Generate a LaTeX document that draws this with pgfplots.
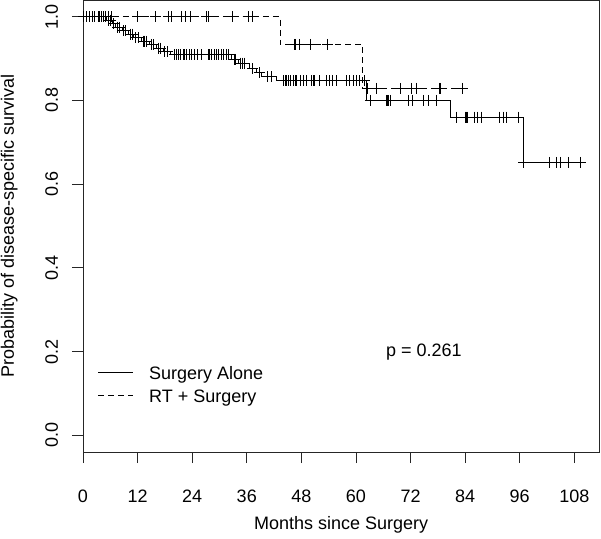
\documentclass[border=0pt]{standalone}
\usepackage{fontspec}
\setmainfont{Liberation Sans}
\usepackage{pgfplots}
\pgfplotsset{compat=1.18}
\begin{document}
\begin{tikzpicture}[font=\fontsize{18pt}{21pt}\selectfont]
\begin{axis}[
  scale only axis,
  width=516.3pt, height=452pt,
  xmin=0, xmax=113.5, ymin=-0.04, ymax=1.04,
  axis line style={line width=0.8pt, black!85},
  xtick={0,12,...,108}, xticklabels={0,12,24,36,48,60,72,84,96,108},
  ytick={0,0.2,0.4,0.6,0.8,1.0}, yticklabels={0.0,0.2,0.4,0.6,0.8,1.0},
  tick align=outside, xtick pos=bottom, ytick pos=left,
  major tick length=11pt,
  tick style={line width=0.8pt, black!85},
  xticklabel style={anchor=base, inner sep=0pt},
  yticklabel style={rotate=90, anchor=base, inner sep=0pt},
  xticklabel shift=39pt, yticklabel shift=14pt,
  xlabel={Months since Surgery},
  ylabel={Probability of disease-specific survival},
  xlabel style={at={([yshift=-77pt]axis description cs:0.5,0)}, anchor=base, inner sep=0pt},
  ylabel style={at={([xshift=-69pt]axis description cs:0,0.5)}, anchor=base, inner sep=0pt},
  clip=false,
]
% Surgery Alone (solid)
\addplot[black, line width=0.9pt, const plot] coordinates {
 (0,1) (5.2,0.9917) (6.4,0.9834) (7.2,0.9751) (8.6,0.9668) (10,0.9585)
 (11.2,0.9502) (12.8,0.9419) (14.6,0.9336) (16.2,0.9253) (17.6,0.917)
 (19.2,0.9095) (32.7,0.898) (34.2,0.889) (36.7,0.876) (38.2,0.866)
 (39.3,0.857) (42.6,0.847) (62.3,0.80) (80.7,0.760) (96.9,0.652) (109.3,0.652)};
\addplot[black, only marks, mark=+, mark size=5.5pt, mark options={line width=0.9pt}] coordinates {
 (5.6,0.9917) (6.0,0.9917) (6.8,0.9834) (7.6,0.9751) (8.0,0.9751) (9.0,0.9668) (9.4,0.9668)
 (10.4,0.9585) (10.8,0.9585) (11.6,0.9502) (12.2,0.9502) (13.2,0.9419) (13.6,0.9419) (14.0,0.9419)
 (15.0,0.9336) (15.5,0.9336) (16.6,0.9253) (17.0,0.9253) (18.0,0.917) (18.5,0.917)
 (20.2,0.9095) (20.6,0.9095) (21.0,0.9095) (21.5,0.9095) (22.0,0.9095) (22.4,0.9095) (22.8,0.9095)
 (23.3,0.9095) (23.8,0.9095) (24.6,0.9095) (25.2,0.9095) (26.1,0.9095) (27.5,0.9095) (27.9,0.9095)
 (28.3,0.9095) (29.0,0.9095) (29.4,0.9095) (29.8,0.9095) (30.5,0.9095) (30.9,0.9095) (31.6,0.9095) (31.9,0.9095)
 (33.2,0.898) (33.6,0.898) (34.6,0.889) (35.0,0.889) (35.5,0.889) (37.3,0.876) (38.7,0.866)
 (40.6,0.857) (41.4,0.857)
 (44.0,0.847) (44.4,0.847) (44.7,0.847) (45.1,0.847) (45.5,0.847) (46.2,0.847) (46.6,0.847) (46.9,0.847)
 (47.7,0.847) (48.4,0.847) (49.1,0.847) (50.2,0.847) (50.6,0.847) (50.9,0.847) (52.0,0.847) (53.5,0.847)
 (54.2,0.847) (54.9,0.847) (55.7,0.847) (57.9,0.847) (58.6,0.847) (59.4,0.847) (60.1,0.847) (60.8,0.847) (61.8,0.847)
 (63.2,0.80) (66.6,0.80) (66.9,0.80) (67.2,0.80) (67.5,0.80) (71.5,0.80) (72.4,0.80) (74.8,0.80) (76.0,0.80) (77.6,0.80)
 (82.0,0.760) (84.0,0.760) (84.2,0.760) (84.6,0.760) (86.0,0.760) (86.8,0.760) (87.6,0.760) (91.5,0.760)
 (92.4,0.760) (93.0,0.760) (95.7,0.760)
 (96.9,0.652) (102.5,0.652) (104.0,0.652) (105.0,0.652) (106.7,0.652) (109.3,0.652)};
% RT + Surgery (dashed)
\addplot[black, line width=0.9pt, const plot, dash pattern=on 6pt off 4pt] coordinates {
 (0,1) (43.3,0.934) (61.4,0.829) (83.4,0.829)};
\addplot[black, only marks, mark=+, mark size=5.5pt, mark options={line width=0.9pt}] coordinates {
 (0.2,1) (0.8,1) (1.5,1) (2.0,1) (2.6,1) (3.4,1) (3.7,1) (4.1,1) (4.5,1) (5.0,1) (5.6,1) (6.3,1)
 (12,1) (16,1) (18.8,1) (19.4,1) (21.7,1) (22.6,1) (23.7,1) (27.2,1) (27.6,1) (32.9,1) (36.3,1) (37.2,1)
 (46.4,0.934) (46.8,0.934) (47.6,0.934) (50.1,0.934) (53.8,0.934)
 (62.5,0.829) (64.5,0.829) (69.7,0.829) (72.3,0.829) (73.4,0.829) (78.3,0.829) (78.6,0.829) (83.4,0.829)};
% legend
\draw[black, line width=0.9pt] (axis cs:3.3,0.1496) -- (axis cs:11,0.1496);
\draw[black, line width=0.9pt, dash pattern=on 6pt off 4pt] (axis cs:3.3,0.0947) -- (axis cs:11,0.0947);
\node[anchor=base west, inner sep=0pt] at (axis cs:14.5,0.133) {Surgery Alone};
\node[anchor=base west, inner sep=0pt] at (axis cs:14.5,0.0788) {RT + Surgery};
\node[anchor=base west, inner sep=0pt] at (axis cs:66.6,0.1886) {p = 0.261};
\end{axis}
\pgfresetboundingbox
\path[use as bounding box] ([xshift=-83pt,yshift=-87pt]current axis.south west) rectangle ([xshift=1.7pt]current axis.north east);
\end{tikzpicture}
\end{document}
